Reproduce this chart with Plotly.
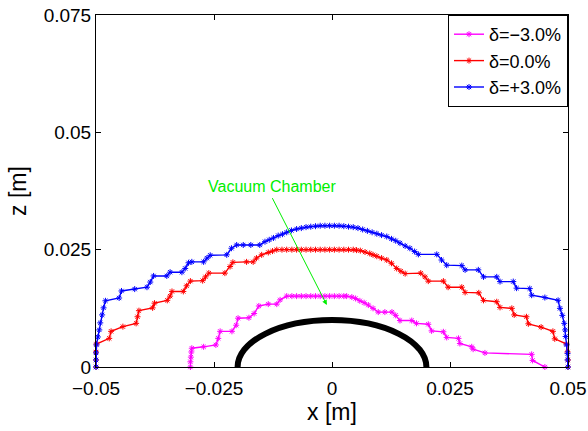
import plotly.graph_objects as go

# Dynamic aperture boundaries (x, z in metres) for three momentum offsets
x_minus3 = [-0.0300, -0.0300, -0.0299, -0.0298, -0.0297, -0.0272, -0.0246, -0.0241, -0.0237,
            -0.0212, -0.0203, -0.0199, -0.0176, -0.0165, -0.0155, -0.0135, -0.0117, -0.0110,
            -0.0096, -0.0085, -0.0075, -0.0065, -0.0055, -0.0045, -0.0035, -0.0025, -0.0015,
            -0.0005, 0.0005, 0.0015, 0.0025, 0.0031, 0.0042, 0.0050, 0.0059, 0.0068, 0.0077,
            0.0087, 0.0098, 0.0112, 0.0127, 0.0135, 0.0144, 0.0169, 0.0179, 0.0204, 0.0211,
            0.0236, 0.0243, 0.0268, 0.0271, 0.0296, 0.0299, 0.0324, 0.0423, 0.0425, 0.0451]
z_minus3 = [0.0000, 0.0011, 0.0021, 0.0032, 0.0040, 0.0043, 0.0047, 0.0061, 0.0076,
            0.0076, 0.0089, 0.0104, 0.0105, 0.0114, 0.0130, 0.0134, 0.0134, 0.0143,
            0.0151, 0.0151, 0.0151, 0.0151, 0.0151, 0.0151, 0.0151, 0.0151, 0.0151,
            0.0151, 0.0151, 0.0151, 0.0151, 0.0151, 0.0149, 0.0146, 0.0141, 0.0137, 0.0132,
            0.0125, 0.0117, 0.0117, 0.0117, 0.0110, 0.0099, 0.0099, 0.0093, 0.0091, 0.0077,
            0.0075, 0.0063, 0.0061, 0.0050, 0.0043, 0.0038, 0.0030, 0.0027, 0.0014, 0.0000]

x_zero = [-0.0500, -0.0500, -0.0500, -0.0499, -0.0472, -0.0468, -0.0443, -0.0415, -0.0412,
          -0.0409, -0.0380, -0.0376, -0.0349, -0.0343, -0.0339, -0.0315, -0.0308, -0.0300,
          -0.0274, -0.0268, -0.0261, -0.0227, -0.0216, -0.0210, -0.0181, -0.0167, -0.0160,
          -0.0149, -0.0135, -0.0126, -0.0117, -0.0106, -0.0096, -0.0085, -0.0075, -0.0065,
          -0.0055, -0.0045, -0.0035, -0.0025, -0.0015, -0.0005, 0.0005, 0.0015, 0.0025,
          0.0035, 0.0045, 0.0052, 0.0060, 0.0070, 0.0080, 0.0087, 0.0095, 0.0105, 0.0116,
          0.0126, 0.0137, 0.0146, 0.0155, 0.0188, 0.0197, 0.0204, 0.0236, 0.0246, 0.0275,
          0.0282, 0.0311, 0.0321, 0.0349, 0.0356, 0.0381, 0.0386, 0.0412, 0.0416, 0.0443,
          0.0468, 0.0472, 0.0497, 0.0499, 0.0500, 0.0500]
z_zero = [0.0000, 0.0015, 0.0032, 0.0049, 0.0061, 0.0076, 0.0086, 0.0093, 0.0107,
          0.0120, 0.0126, 0.0136, 0.0142, 0.0151, 0.0161, 0.0161, 0.0173, 0.0183,
          0.0184, 0.0192, 0.0200, 0.0200, 0.0214, 0.0223, 0.0224, 0.0224, 0.0232,
          0.0239, 0.0244, 0.0247, 0.0250, 0.0250, 0.0250, 0.0250, 0.0250, 0.0250,
          0.0250, 0.0250, 0.0250, 0.0250, 0.0250, 0.0250, 0.0250, 0.0250, 0.0250,
          0.0250, 0.0250, 0.0249, 0.0248, 0.0245, 0.0242, 0.0239, 0.0236, 0.0232, 0.0228,
          0.0221, 0.0210, 0.0204, 0.0199, 0.0200, 0.0192, 0.0183, 0.0183, 0.0170, 0.0170,
          0.0159, 0.0158, 0.0142, 0.0139, 0.0127, 0.0125, 0.0111, 0.0107, 0.0092, 0.0085,
          0.0076, 0.0060, 0.0049, 0.0032, 0.0015, 0.0000]

x_plus3 = [-0.0500, -0.0500, -0.0500, -0.0499, -0.0496, -0.0493, -0.0491, -0.0487, -0.0484,
           -0.0480, -0.0451, -0.0446, -0.0418, -0.0392, -0.0385, -0.0378, -0.0350, -0.0343,
           -0.0318, -0.0311, -0.0304, -0.0297, -0.0272, -0.0265, -0.0258, -0.0223, -0.0213,
           -0.0202, -0.0188, -0.0172, -0.0153, -0.0142, -0.0133, -0.0124, -0.0114, -0.0105,
           -0.0096, -0.0086, -0.0075, -0.0065, -0.0055, -0.0045, -0.0035, -0.0025, -0.0015,
           -0.0005, 0.0005, 0.0015, 0.0025, 0.0035, 0.0045, 0.0055, 0.0065, 0.0075, 0.0085,
           0.0095, 0.0105, 0.0116, 0.0126, 0.0135, 0.0144, 0.0155, 0.0165, 0.0175, 0.0183,
           0.0222, 0.0232, 0.0243, 0.0275, 0.0282, 0.0310, 0.0321, 0.0349, 0.0356, 0.0384,
           0.0391, 0.0419, 0.0423, 0.0451, 0.0479, 0.0483, 0.0488, 0.0492, 0.0494, 0.0495,
           0.0497, 0.0499, 0.0499, 0.0500]
z_plus3 = [0.0000, 0.0015, 0.0030, 0.0047, 0.0064, 0.0079, 0.0094, 0.0111, 0.0126,
           0.0141, 0.0147, 0.0162, 0.0166, 0.0170, 0.0181, 0.0194, 0.0194, 0.0202,
           0.0202, 0.0210, 0.0222, 0.0224, 0.0224, 0.0232, 0.0238, 0.0239, 0.0253,
           0.0260, 0.0260, 0.0260, 0.0260, 0.0267, 0.0271, 0.0275, 0.0280, 0.0283,
           0.0287, 0.0291, 0.0294, 0.0296, 0.0298, 0.0299, 0.0300, 0.0301, 0.0301,
           0.0301, 0.0301, 0.0301, 0.0300, 0.0299, 0.0298, 0.0296, 0.0293, 0.0290, 0.0287,
           0.0284, 0.0281, 0.0278, 0.0273, 0.0269, 0.0264, 0.0258, 0.0253, 0.0246, 0.0240,
           0.0240, 0.0228, 0.0217, 0.0216, 0.0207, 0.0207, 0.0192, 0.0192, 0.0182, 0.0182,
           0.0168, 0.0167, 0.0153, 0.0148, 0.0142, 0.0125, 0.0110, 0.0093, 0.0079, 0.0065,
           0.0047, 0.0029, 0.0015, 0.0000]

series_names = ["δ=−3.0%", "δ=0.0%", "δ=+3.0%"]
series_colors = ["#ff00ff", "#ff0000", "#0000ff"]

# Vacuum chamber half-ellipse (semi-axes in metres)
chamber_half_width = 0.02
chamber_half_height = 0.01

x_ticks = [-0.05, -0.025, 0, 0.025, 0.05]
x_tick_text = ["−0.05", "−0.025", "0", "0.025", "0.05"]
z_ticks = [0, 0.025, 0.05, 0.075]
z_tick_text = ["0", "0.025", "0.05", "0.075"]

FONT = "Liberation Sans, Arial, Helvetica, sans-serif"

fig = go.Figure()

for xs, zs, name, color in zip([x_minus3, x_zero, x_plus3],
                               [z_minus3, z_zero, z_plus3],
                               series_names, series_colors):
    fig.add_trace(go.Scatter(
        x=xs, y=zs, name=name, mode="lines+markers",
        line=dict(color=color, width=1.4),
        marker=dict(symbol="asterisk-open", size=5, color=color,
                    line=dict(color=color, width=1)),
        cliponaxis=False,
    ))

# chamber outline: the lower half of the ellipse falls outside the plot area
fig.add_shape(type="circle", xref="x", yref="y",
              x0=-chamber_half_width, x1=chamber_half_width,
              y0=-chamber_half_height, y1=chamber_half_height,
              line=dict(color="black", width=6), layer="above")

fig.add_annotation(x=-0.0127, y=0.0384, text="Vacuum Chamber", showarrow=False,
                   font=dict(family=FONT, size=16, color="#00ee00"))
fig.add_annotation(x=-0.0011, y=0.0132, ax=-0.0128, ay=0.0363,
                   xref="x", yref="y", axref="x", ayref="y",
                   text="", showarrow=True, arrowhead=2, arrowsize=1,
                   arrowwidth=1, arrowcolor="#00ee00")

fig.update_layout(
    width=588, height=431,
    margin=dict(l=96, r=20, t=15, b=64, autoexpand=False),
    paper_bgcolor="white", plot_bgcolor="white",
    font=dict(family=FONT, size=19, color="black"),
    showlegend=True,
    legend=dict(x=1, y=1, xanchor="right", yanchor="top",
                bgcolor="white", bordercolor="black", borderwidth=1,
                font=dict(family=FONT, size=18), itemwidth=30,
                tracegroupgap=0),
)

fig.update_xaxes(range=[-0.05, 0.05], tickvals=x_ticks, ticktext=x_tick_text,
                 automargin=False, ticklabelstandoff=4,
                 showline=True, linecolor="black", linewidth=1, mirror="ticks",
                 ticks="inside", ticklen=5, tickcolor="black", showgrid=False,
                 zeroline=False, title=dict(text="x [m]", standoff=4),
                 tickfont=dict(size=19))
fig.update_yaxes(range=[0, 0.075], tickvals=z_ticks, ticktext=z_tick_text,
                 automargin=False,
                 showline=True, linecolor="black", linewidth=1, mirror="ticks",
                 ticks="inside", ticklen=5, tickcolor="black", showgrid=False,
                 zeroline=False, title=dict(text="z [m]", standoff=10),
                 tickfont=dict(size=19))

fig.write_html("out.html")
